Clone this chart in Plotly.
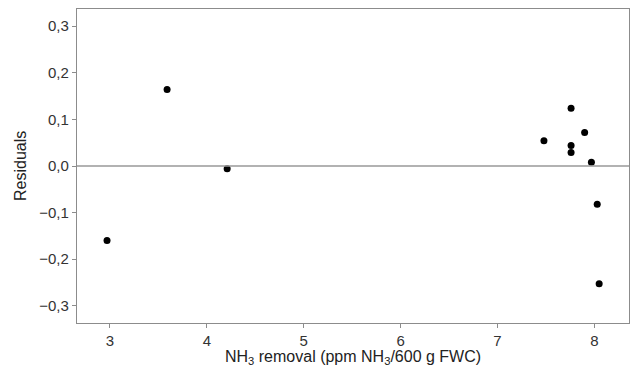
import plotly.graph_objects as go

nh3_removal = [2.97, 3.59, 4.21, 7.48, 7.76, 7.76, 7.76, 7.90, 7.97, 8.03, 8.05]
residuals = [-0.160, 0.164, -0.006, 0.054, 0.124, 0.044, 0.029, 0.072, 0.008, -0.082, -0.253]

x_ticks = [3, 4, 5, 6, 7, 8]
y_ticks = [-0.3, -0.2, -0.1, 0.0, 0.1, 0.2, 0.3]
y_tick_labels = ["\u22120,3", "\u22120,2", "\u22120,1", "0,0", "0,1", "0,2", "0,3"]

x_title = "NH<sub>3</sub> removal (ppm NH<sub>3</sub>/600 g FWC)"
y_title = "Residuals"

fig = go.Figure()
fig.add_trace(go.Scatter(
    x=nh3_removal, y=residuals, mode="markers",
    marker=dict(color="black", size=7), showlegend=False,
))
fig.add_hline(y=0, line=dict(color="#999999", width=1.3))

font = "Liberation Sans"
fig.update_layout(
    width=637, height=374,
    margin=dict(l=77, r=8, t=9, b=51),
    paper_bgcolor="white", plot_bgcolor="white",
    font=dict(family=font, size=15, color="#333333"),
    xaxis=dict(
        range=[2.66, 8.358], tickvals=x_ticks, ticktext=[str(t) for t in x_ticks],
        showgrid=False, zeroline=False, showline=True, mirror=True,
        linecolor="#8c8c8c", linewidth=1.3, automargin=False,
        ticks="outside", ticklen=4, tickcolor="#8c8c8c",
    ),
    yaxis=dict(
        range=[-0.337, 0.337], tickvals=y_ticks, ticktext=y_tick_labels,
        showgrid=False, zeroline=False, showline=True, mirror=True,
        linecolor="#8c8c8c", linewidth=1.3, automargin=False,
        ticks="outside", ticklen=4, tickcolor="#8c8c8c",
    ),
    annotations=[
        dict(text=x_title, xref="paper", yref="paper", x=0.5, y=0,
             yshift=-34, xanchor="center", yanchor="middle", showarrow=False,
             font=dict(size=16, color="#222222")),
        dict(text=y_title, xref="paper", yref="paper", x=0, y=0.5,
             xshift=-57, xanchor="center", yanchor="middle", textangle=-90,
             showarrow=False, font=dict(size=16, color="#222222")),
    ],
)
fig.write_html("out.html", config={"displayModeBar": False},
               post_script="document.body.style.margin='0';document.body.style.overflow='hidden';")
